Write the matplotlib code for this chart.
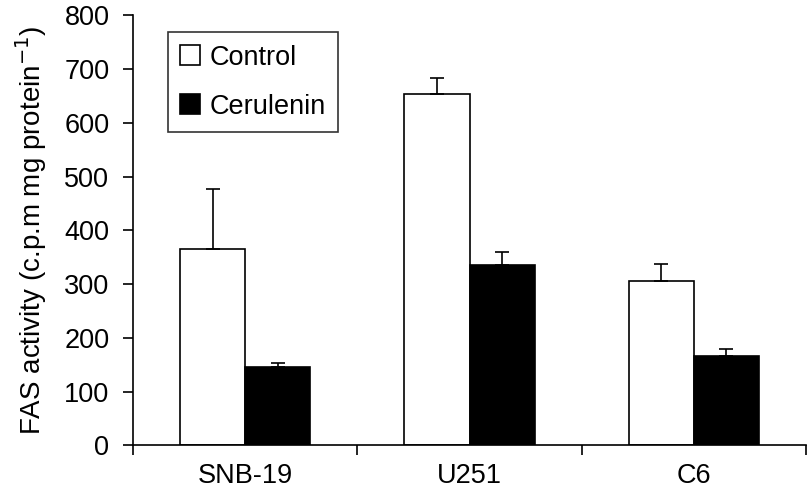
import numpy as np
from matplotlib import pyplot as plt

plt.rcParams['font.family'] = ['Liberation Sans', 'DejaVu Sans']

cells = ['SNB-19', 'U251', 'C6']
control = [365, 653, 305]
control_err = [111, 31, 33]
cerulenin = [146, 336, 166]
cerulenin_err = [8, 24, 13]

fig = plt.figure(figsize=(8.08, 4.91), dpi=100)
ax = fig.add_axes([0.1646, 0.093, 0.833, 0.876])

x = np.arange(len(cells))
w = 0.29
lw = 1.2
err_kw = dict(ecolor='black', elinewidth=lw, capsize=5, capthick=lw)

ax.bar(x - w/2, control, w, color='white', edgecolor='black', linewidth=lw,
       yerr=[np.zeros(3), control_err], error_kw=err_kw, label='Control')
ax.bar(x + w/2, cerulenin, w, color='black', edgecolor='black', linewidth=lw,
       yerr=[np.zeros(3), cerulenin_err], error_kw=err_kw, label='Cerulenin')

ax.set_xlim(-0.5, 2.5)
ax.set_ylim(0, 800)
ax.set_yticks(range(0, 801, 100))
ax.set_xticks([-0.5, 0.5, 1.5, 2.5])
ax.set_xticklabels([])
ax.set_xticks(x, minor=True)
ax.set_xticklabels(cells, minor=True, fontsize=19.5)
ax.tick_params(axis='x', which='minor', length=0, pad=13)
ax.tick_params(axis='x', which='major', direction='out', length=7, width=lw)
ax.tick_params(axis='y', direction='out', length=7, width=lw, labelsize=19.5, pad=10)

for s in ['top', 'right']:
    ax.spines[s].set_visible(False)
for s in ['left', 'bottom']:
    ax.spines[s].set_linewidth(lw)

ax.set_ylabel('FAS activity (c.p.m mg protein$^{-1}$)', fontsize=20, labelpad=11)

leg = ax.legend(loc='upper left', bbox_to_anchor=(0.052, 0.96), fontsize=19.5,
                frameon=True, fancybox=False, edgecolor='black',
                handlelength=0.75, handleheight=0.75, handletextpad=0.35,
                borderpad=0.45, labelspacing=0.85, borderaxespad=0)
leg.get_frame().set_linewidth(lw)

fig.savefig('out.png', dpi=100)
